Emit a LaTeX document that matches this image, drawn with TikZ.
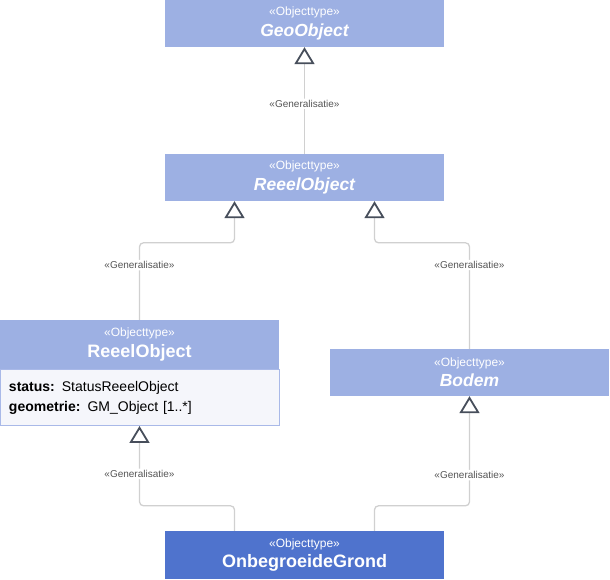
\documentclass[tikz,border=0pt]{standalone}
\usepackage{fontspec}
\setmainfont{Liberation Sans}
\usetikzlibrary{arrows.meta,positioning}

\definecolor{typefill}{HTML}{9DB0E3}
\definecolor{leaffill}{HTML}{4F73CD}
\definecolor{attrfill}{HTML}{F5F6FB}
\definecolor{attrline}{HTML}{A9B9E8}
\definecolor{linegray}{HTML}{D0D0D0}
\definecolor{tipgray}{HTML}{474E5B}
\definecolor{labelgray}{HTML}{555555}

\newcommand{\stereotype}{{\fontsize{12}{13}\selectfont «Objecttype»}\\[4pt]}
\newcommand{\abstracttype}[1]{{\fontsize{17.5}{19}\selectfont\bfseries\itshape #1}}
\newcommand{\concretetype}[1]{{\fontsize{18}{19}\selectfont\bfseries #1}}

\tikzset{
  objtype/.style={fill=typefill, text=white, minimum width=279pt, minimum height=47pt,
    inner sep=0pt, align=center},
  leaftype/.style={objtype, fill=leaffill, minimum height=48pt},
  attrbox/.style={draw=attrline, fill=attrfill, line width=0.8pt, minimum width=279pt,
    minimum height=56pt, text width=261pt, inner xsep=9pt, align=left,
    font=\fontsize{14}{20}\selectfont},
  gen/.style={draw=linegray, line width=1.3pt, rounded corners=4pt,
    -{Triangle[open, length=17pt, width=20pt, color=tipgray, line width=1.8pt]}},
  genlabel/.style={fill=white, text=labelgray, inner sep=1.5pt,
    font=\fontsize{10}{11}\selectfont},
}

\begin{document}
\begin{tikzpicture}[x=1pt, y=1pt]
\useasboundingbox (0,0) rectangle (610,580);

% types
\node[objtype] (geo) at (304.5,556.5) {\stereotype\abstracttype{GeoObject}};
\node[objtype] (reeel) at (304.5,402.5) {\stereotype\abstracttype{ReeelObject}};
\node[objtype, minimum height=49pt] (reeelobj) at (139.5,235.5) {\stereotype\concretetype{ReeelObject}};
\node[attrbox, anchor=north] (reeelattr) at (reeelobj.south)
  {\textbf{status:} StatusReeelObject\\\textbf{geometrie:} GM\_Object [1..*]};
\node[objtype] (bodem) at (469.5,207.5) {\stereotype\abstracttype{Bodem}};
\node[leaftype] (grond) at (304.5,25) {\stereotype\concretetype{OnbegroeideGrond}};

% generalisaties
\draw[gen] (reeel.north) -- node[genlabel, pos=0.47] {«Generalisatie»} (geo.south);
\draw[gen] (reeelobj.north) -- node[genlabel, pos=0.71] {«Generalisatie»} ++(0,77)
  -| ([xshift=-70pt]reeel.south);
\draw[gen] (bodem.north) -- node[genlabel, pos=0.79] {«Generalisatie»} ++(0,106)
  -| ([xshift=70pt]reeel.south);
\draw[gen] ([xshift=-70pt]grond.north) -- ++(0,25)
  -| node[genlabel, pos=0.70] {«Generalisatie»} (reeelattr.south);
\draw[gen] ([xshift=70pt]grond.north) -- ++(0,25)
  -| node[genlabel, pos=0.64] {«Generalisatie»} (bodem.south);
\end{tikzpicture}
\end{document}
